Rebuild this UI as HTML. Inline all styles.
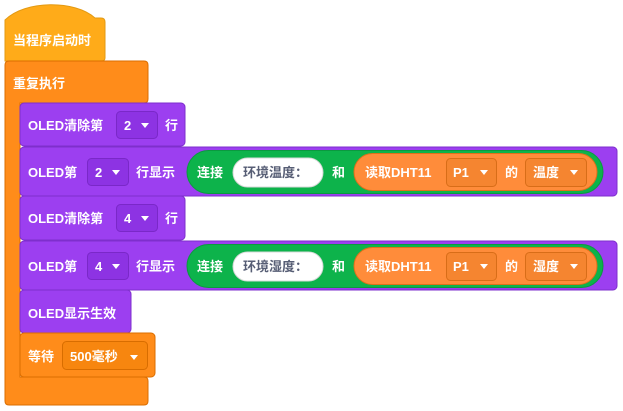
<!DOCTYPE html>
<html><head><meta charset="utf-8"><style>
html,body{margin:0;padding:0;background:#fff;width:623px;height:411px;overflow:hidden}
svg text{font-family:"Liberation Sans","Noto Sans CJK SC",sans-serif;font-weight:bold;font-size:13px;fill:#fff}
</style></head><body>
<svg width="623" height="411" viewBox="0 0 623 411" xmlns="http://www.w3.org/2000/svg">
<!-- hat -->
<path d="M5,20 C25,0 75,0 95,18 L101,18 Q105,18 105,22 L105,58 Q105,61 101,61 L5,61 Z" fill="#ffab19" stroke="#e39a12" stroke-width="1"/>
<text x="13" y="45">当程序启动时</text>
<!-- repeat C -->
<path d="M9,61 L144,61 Q148,61 148,65 L148,99 Q148,103 144,103 L20,103 L20,377 L144,377 Q148,377 148,381 L148,401 Q148,405 144,405 L9,405 Q5,405 5,401 L5,65 Q5,61 9,61 Z" fill="#ff8c1a" stroke="#db6e00" stroke-width="1"/>
<text x="13" y="88">重复执行</text>

<!-- block1 -->
<rect x="20" y="103" width="165" height="43" rx="4" fill="#9c3ff0" stroke="#7e2fcc"/>
<text x="28" y="130">OLED清除第</text>
<rect x="116.5" y="111.5" width="41" height="27" rx="4" fill="#8d33e3" stroke="#7a28c8"/>
<text x="124" y="130">2</text><path d="M141,123 L149,123 L145,128 Z" fill="#fff"/>
<text x="165" y="130">行</text>

<!-- block2 -->
<rect x="20" y="147" width="597" height="49" rx="4" fill="#9c3ff0" stroke="#7e2fcc"/>
<text x="28" y="177">OLED第</text>
<rect x="87.5" y="158.5" width="41" height="27" rx="4" fill="#8d33e3" stroke="#7a28c8"/>
<text x="95" y="177">2</text><path d="M112,170 L120,170 L116,175 Z" fill="#fff"/>
<text x="136" y="177">行显示</text>
<rect x="187" y="150.5" width="416" height="43" rx="21.5" fill="#0db34b" stroke="#0a9a3f"/>
<text x="197" y="177">连接</text>
<rect x="233" y="158" width="90" height="29" rx="14.5" fill="#fff" stroke="#d8d8d8"/>
<text x="243" y="177" style="fill:#575e75">环境温度：</text>
<text x="332" y="177">和</text>
<rect x="354" y="153.5" width="243" height="37" rx="18.5" fill="#ff8c3a" stroke="#e0701a"/>
<text x="365" y="177">读取DHT11</text>
<rect x="446.5" y="158.5" width="50" height="28" rx="4" fill="#f58530" stroke="#d86d18"/>
<text x="453" y="177">P1</text><path d="M480,170 L488,170 L484,175 Z" fill="#fff"/>
<text x="505" y="177">的</text>
<rect x="525.5" y="158.5" width="61" height="28" rx="4" fill="#f58530" stroke="#d86d18"/>
<text x="533" y="177">温度</text><path d="M570,170 L578,170 L574,175 Z" fill="#fff"/>

<!-- block3 -->
<rect x="20" y="196" width="165" height="44" rx="4" fill="#9c3ff0" stroke="#7e2fcc"/>
<text x="28" y="223">OLED清除第</text>
<rect x="116.5" y="204.5" width="41" height="27" rx="4" fill="#8d33e3" stroke="#7a28c8"/>
<text x="124" y="223">4</text><path d="M141,216 L149,216 L145,221 Z" fill="#fff"/>
<text x="165" y="223">行</text>

<!-- block4 -->
<rect x="20" y="241" width="597" height="49" rx="4" fill="#9c3ff0" stroke="#7e2fcc"/>
<text x="28" y="271">OLED第</text>
<rect x="87.5" y="252.5" width="41" height="27" rx="4" fill="#8d33e3" stroke="#7a28c8"/>
<text x="95" y="271">4</text><path d="M112,264 L120,264 L116,269 Z" fill="#fff"/>
<text x="136" y="271">行显示</text>
<rect x="187" y="244.5" width="416" height="43" rx="21.5" fill="#0db34b" stroke="#0a9a3f"/>
<text x="197" y="271">连接</text>
<rect x="233" y="252" width="90" height="29" rx="14.5" fill="#fff" stroke="#d8d8d8"/>
<text x="243" y="271" style="fill:#575e75">环境湿度：</text>
<text x="332" y="271">和</text>
<rect x="354" y="247.5" width="243" height="37" rx="18.5" fill="#ff8c3a" stroke="#e0701a"/>
<text x="365" y="271">读取DHT11</text>
<rect x="446.5" y="252.5" width="50" height="28" rx="4" fill="#f58530" stroke="#d86d18"/>
<text x="453" y="271">P1</text><path d="M480,264 L488,264 L484,269 Z" fill="#fff"/>
<text x="505" y="271">的</text>
<rect x="525.5" y="252.5" width="61" height="28" rx="4" fill="#f58530" stroke="#d86d18"/>
<text x="533" y="271">湿度</text><path d="M570,264 L578,264 L574,269 Z" fill="#fff"/>

<!-- block5 -->
<rect x="20" y="290" width="111" height="43" rx="4" fill="#9c3ff0" stroke="#7e2fcc"/>
<text x="28" y="318">OLED显示生效</text>

<!-- wait -->
<rect x="20" y="333" width="135" height="44" rx="4" fill="#ff8c1a" stroke="#db6e00"/>
<text x="28" y="361">等待</text>
<rect x="62.5" y="341.5" width="85" height="28" rx="4" fill="#f7860f" stroke="#d86d00"/>
<text x="70" y="361">500毫秒</text><path d="M130,355 L138,355 L134,360 Z" fill="#fff"/>
</svg>
</body></html>
